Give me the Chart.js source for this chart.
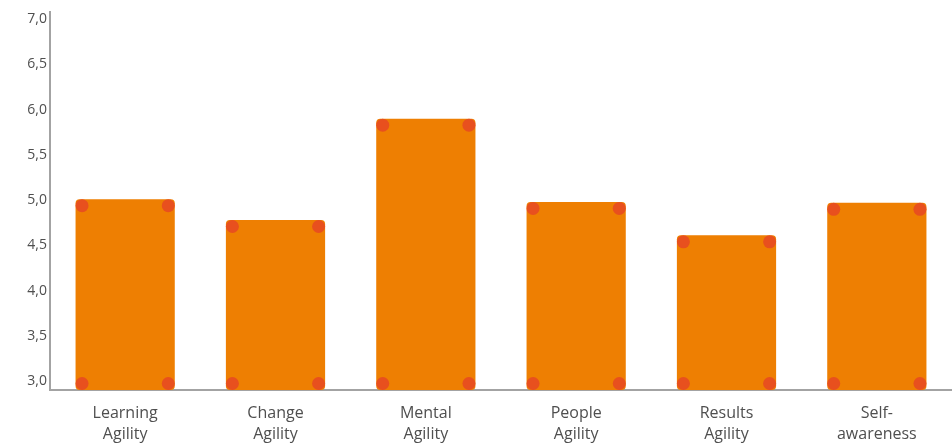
<!DOCTYPE html>
<html>
<head>
<meta charset="utf-8">
<script src="https://cdn.jsdelivr.net/npm/chart.js@4"></script>
<style>
  html, body { margin: 0; padding: 0; background: #fff; }
  #wrap { width: 952px; height: 443px; position: relative; }
</style>
</head>
<body>
<div id="wrap"><canvas id="barchart"></canvas></div>
<script>
const categories = [
  ["Learning", "Agility"],
  ["Change", "Agility"],
  ["Mental", "Agility"],
  ["People", "Agility"],
  ["Results", "Agility"],
  ["Self-", "awareness"]
];
const scores = [5.01, 4.78, 5.90, 4.98, 4.61, 4.97];
const yTicks = [3.0, 3.5, 4.0, 4.5, 5.0, 5.5, 6.0, 6.5, 7.0];
const yMin = 2.9;
const yMax = 7.08;

// little round dots in each corner of the bars
const cornerDots = {
  id: "cornerDots",
  afterDatasetsDraw(chart) {
    const ctx = chart.ctx;
    const meta = chart.getDatasetMeta(0);
    const inset = 6.5;
    ctx.save();
    ctx.fillStyle = "#E8501E";
    meta.data.forEach((bar) => {
      const p = bar.getProps(["x", "y", "base", "width"], true);
      const left = p.x - p.width / 2 + inset;
      const right = p.x + p.width / 2 - inset;
      const top = p.y + inset;
      const bottom = p.base - inset;
      [[left, top], [right, top], [left, bottom], [right, bottom]].forEach(([cx, cy]) => {
        ctx.beginPath();
        ctx.arc(cx, cy, 6.5, 0, Math.PI * 2);
        ctx.fill();
      });
    });
    ctx.restore();
  }
};

const ctx = document.getElementById("barchart").getContext("2d");
window.myChart = new Chart(ctx, {
  type: "bar",
  data: {
    labels: categories,
    datasets: [
      {
        label: "Score",
        data: scores,
        base: yMin,
        backgroundColor: "#EE7F02",
        borderWidth: 0,
        borderRadius: 4,
        borderSkipped: false,
        barPercentage: 0.66,
        categoryPercentage: 1.0
      }
    ]
  },
  options: {
    responsive: true,
    maintainAspectRatio: false,
    animation: false,
    layout: { padding: { top: 12, right: 0, left: 0, bottom: 0 } },
    plugins: {
      legend: { display: false },
      tooltip: { enabled: false }
    },
    scales: {
      x: {
        grid: { display: false, drawTicks: false },
        border: { display: true, color: "#a3a3a3", width: 2 },
        ticks: {
          color: "#4f4f4f",
          padding: 13,
          maxRotation: 0,
          autoSkip: false,
          font: { family: "Open Sans", size: 16, lineHeight: 1.3 }
        },
        afterFit(scale) { scale.height = 53; }
      },
      y: {
        min: yMin,
        max: yMax,
        grid: { display: false, drawTicks: false },
        border: { display: true, color: "#a3a3a3", width: 2 },
        afterBuildTicks(scale) {
          scale.ticks = yTicks.map((v) => ({ value: v }));
        },
        afterFit(scale) { scale.width = 50; },
        ticks: {
          color: "#4f4f4f",
          padding: 3,
          font: { family: "Open Sans", size: 14 },
          callback: (v) => Number(v).toFixed(1).replace(".", ",")
        }
      }
    }
  },
  plugins: [cornerDots]
});
</script>
</body>
</html>
